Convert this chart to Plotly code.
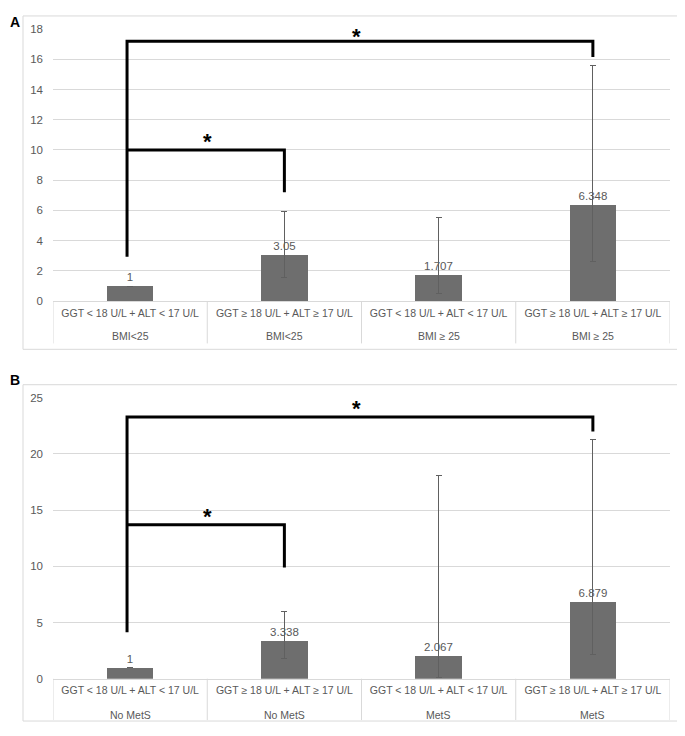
import plotly.graph_objects as go

# the page body adds an 8px margin; lay out in window pixels minus that offset
OFF = 8
FW, FH = 685 - OFF, 736 - 2 * OFF

# ---------------- data ----------------
groups = ["GGT < 18 U/L + ALT < 17 U/L", "GGT ≥ 18 U/L + ALT ≥ 17 U/L",
          "GGT < 18 U/L + ALT < 17 U/L", "GGT ≥ 18 U/L + ALT ≥ 17 U/L"]
strata_A = ["BMI<25", "BMI<25", "BMI ≥ 25", "BMI ≥ 25"]
strata_B = ["No MetS", "No MetS", "MetS", "MetS"]
labels_A = ["1", "3.05", "1.707", "6.348"]
labels_B = ["1", "3.338", "2.067", "6.879"]

values_A = [1.0, 3.05, 1.707, 6.348]
upper_A = [1.0, 5.95, 5.53, 15.57]
lower_A = [1.0, 1.55, 0.5, 2.6]

values_B = [1.0, 3.338, 2.067, 6.879]
upper_B = [1.0, 5.95, 18.08, 21.26]
lower_B = [1.0, 1.81, 0.15, 2.16]

yticks_A = [0, 2, 4, 6, 8, 10, 12, 14, 16, 18]
yticks_B = [0, 5, 10, 15, 20, 25]

# significance brackets (x in category index, y in data units)
brA_outer_x = [-0.02, -0.02, 3.0, 3.0]
brA_outer_y = [2.93, 17.2, 17.2, 16.15]
brA_inner_x = [-0.02, 1.0, 1.0]
brA_inner_y = [10.0, 10.0, 7.2]
starsA_x = [0.5, 1.47]
starsA_y = [9.8, 16.75]

brB_outer_x = [-0.02, -0.02, 3.0, 3.0]
brB_outer_y = [4.14, 23.3, 23.3, 22.0]
brB_inner_x = [-0.02, 1.0, 1.0]
brB_inner_y = [13.7, 13.7, 9.9]
starsB_x = [0.5, 1.47]
starsB_y = [13.45, 23.05]

# ---------------- style ----------------
FONT = "Liberation Sans"
GRAY_TXT = "#595959"
GRID = "#d9d9d9"
BAR = "#6e6e6e"
ERR = "#606060"

def px_x(p):
    return (p - OFF) / FW

def px_y(p):
    return 1 - (p - OFF) / FH

idx = list(range(len(groups)))

fig = go.Figure()

def add_panel(xa, ya, vals, up, lo, labs, bo_x, bo_y, bi_x, bi_y):
    fig.add_trace(go.Bar(
        x=idx, y=vals, width=0.3, marker_color=BAR, marker_line_width=0,
        text=labs, textposition="outside", cliponaxis=False,
        textfont=dict(family=FONT, size=11.5, color=GRAY_TXT),
        error_y=dict(type="data", symmetric=False,
                     array=[u - v for u, v in zip(up, vals)],
                     arrayminus=[v - l for v, l in zip(vals, lo)],
                     color=ERR, thickness=1, width=3),
        xaxis=xa, yaxis=ya, showlegend=False, hoverinfo="skip"))
    for bx, by in ((bo_x, bo_y), (bi_x, bi_y)):
        fig.add_trace(go.Scatter(
            x=bx, y=by, mode="lines", line=dict(color="black", width=3),
            xaxis=xa, yaxis=ya, showlegend=False, hoverinfo="skip", cliponaxis=False))

add_panel("x", "y", values_A, upper_A, lower_A, labels_A,
          brA_outer_x, brA_outer_y, brA_inner_x, brA_inner_y)
add_panel("x2", "y2", values_B, upper_B, lower_B, labels_B,
          brB_outer_x, brB_outer_y, brB_inner_x, brB_inner_y)

xcommon = dict(range=[-0.5, 3.5], tickvals=idx, ticktext=groups,
               showgrid=False, zeroline=False, showline=True, linecolor=GRID,
               linewidth=1, ticks="outside", ticklen=2, tickcolor="rgba(0,0,0,0)",
               tickfont=dict(family=FONT, size=10.5, color=GRAY_TXT),
               fixedrange=True)
ycommon = dict(showgrid=True, gridcolor=GRID, gridwidth=1, zeroline=False,
               showline=False, ticks="", ticklabelstandoff=9,
               tickfont=dict(family=FONT, size=11.5, color=GRAY_TXT),
               fixedrange=True)

dom_x = [px_x(53), px_x(670)]
fig.update_layout(
    width=FW, height=FH, margin=dict(l=0, r=0, t=0, b=0),
    paper_bgcolor="white", plot_bgcolor="white",
    bargap=0,
    xaxis=dict(domain=dom_x, anchor="y", **xcommon),
    yaxis=dict(domain=[px_y(300), px_y(23.3)], range=[0, 18], tickvals=yticks_A,
               anchor="x", **ycommon),
    xaxis2=dict(domain=dom_x, anchor="y2", **xcommon),
    yaxis2=dict(domain=[px_y(684), px_y(398.3)], range=[0, 25], tickvals=yticks_B,
                anchor="x2", **ycommon),
)

shapes = []
annotations = []
# outer borders
for (y0, y1) in ((10, 349), (385, 727)):
    shapes.append(dict(type="rect", xref="paper", yref="paper",
                       x0=px_x(23), x1=px_x(680), y0=px_y(y1), y1=px_y(y0),
                       line=dict(color=GRID, width=1), fillcolor="rgba(0,0,0,0)"))
# category dividers and second-row labels
for xa, top, bot, row2, strata in (("x", 300, 343, 335, strata_A),
                                     ("x2", 684, 726, 721, strata_B)):
    for d in [-0.5, 0.5, 1.5, 2.5, 3.5]:
        shapes.append(dict(type="line", xref=xa, yref="paper", x0=d, x1=d,
                           y0=px_y(bot), y1=px_y(top),
                           line=dict(color=GRID, width=1)))
    for i, s in enumerate(strata):
        annotations.append(dict(x=i, y=px_y(row2), xref=xa, yref="paper",
                                text=s, showarrow=False, yanchor="middle",
                                font=dict(family=FONT, size=10.5, color=GRAY_TXT)))
# stars
for xa, ya, sx, sy in (("x", "y", starsA_x, starsA_y), ("x2", "y2", starsB_x, starsB_y)):
    for x, y in zip(sx, sy):
        annotations.append(dict(x=x, y=y, xref=xa, yref=ya, text="<b>*</b>",
                                showarrow=False, yanchor="bottom", yshift=-3,
                                font=dict(family=FONT, size=22, color="black")))
# panel letters
annotations.append(dict(x=0, y=1, xref="paper", yref="paper",
                        text="<b>A</b>", showarrow=False,
                        xanchor="left", yanchor="top", yshift=2,
                        font=dict(family=FONT, size=14, color="black")))
annotations.append(dict(x=0, y=px_y(380), xref="paper", yref="paper",
                        text="<b>B</b>", showarrow=False,
                        xanchor="left", yanchor="middle",
                        font=dict(family=FONT, size=14, color="black")))

fig.update_layout(shapes=shapes, annotations=annotations)
fig.write_html("out.html")
